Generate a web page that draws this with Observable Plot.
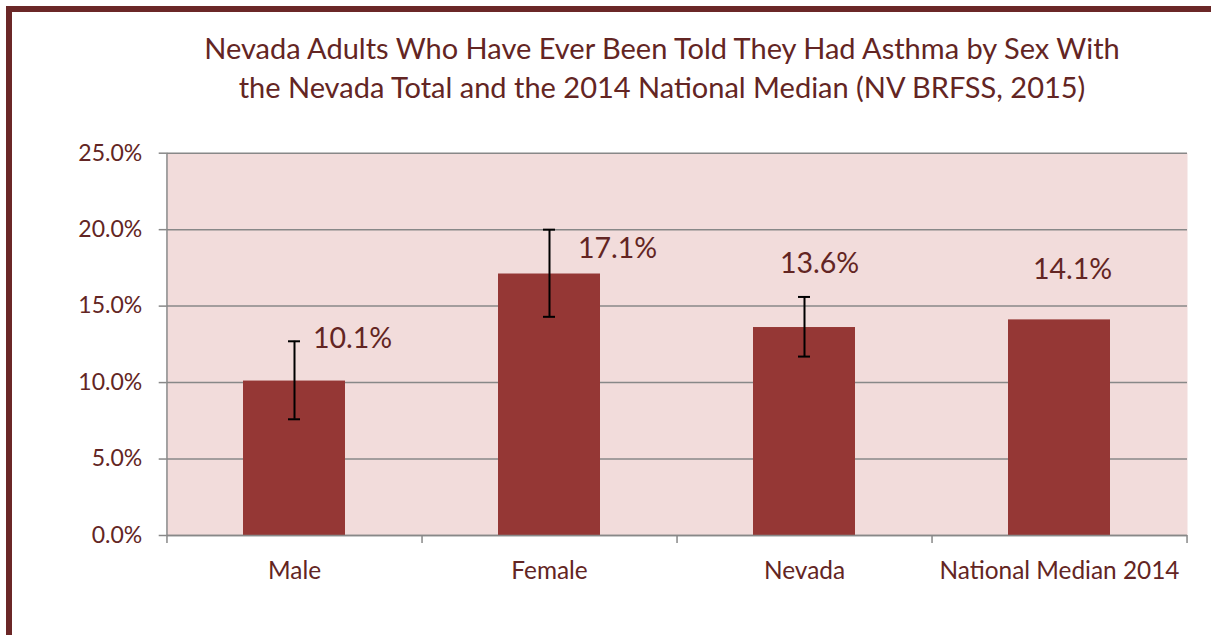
<!DOCTYPE html>
<html><head><meta charset="utf-8">
<script src="https://cdn.jsdelivr.net/npm/d3@7"></script>
<script src="https://cdn.jsdelivr.net/npm/@observablehq/plot@0.6"></script>
<style>
body{margin:0;background:#fff;}
#wrap{position:relative;width:1211px;height:635px;overflow:hidden;background:#fff;}
#border{position:absolute;left:6px;top:6px;width:1300px;height:700px;border-left:6px solid #6b2727;border-top:6px solid #6b2727;}
#title{position:absolute;left:150px;width:1024px;top:28px;text-align:center;font-family:Lato;font-size:29px;line-height:39px;color:#632523;white-space:nowrap;}
#chart{position:absolute;left:0;top:120px;}
</style></head><body>
<div id="wrap"><div id="border"></div><div id="title"></div><div id="chart"></div></div>
<script>
// ---- data ----
const titleLines = ["Nevada Adults Who Have Ever Been Told They Had Asthma by Sex With", "the Nevada Total and the 2014 National Median (NV BRFSS, 2015)"];
const categories = ["Male", "Female", "Nevada", "National Median 2014"];
const values = [10.1, 17.1, 13.6, 14.1];
const ciLow = [7.6, 14.3, 11.7, null];
const ciHigh = [12.7, 20.0, 15.6, null];
const yTicks = [0, 5, 10, 15, 20, 25];

// ---- layout ----
document.getElementById("title").innerHTML = titleLines.join("<br>");
const W = 1211, H = 515, mL = 166.7, mR = 24, mT = 32.7, mB = 100;
const step = (W - mL - mR) / categories.length;
const grey = "#888888", txt = "#632523", barFill = "#953735";
const labelOffset = {"Male": [58, -42], "Female": [68, -25], "Nevada": [15, -64], "National Median 2014": [13, -50]};
const idx = categories.map((_, i) => i);
const errIdx = idx.filter(i => ciLow[i] != null);

const chart = Plot.plot({
  width: W, height: H,
  marginLeft: mL, marginRight: mR, marginTop: mT, marginBottom: mB,
  style: {fontFamily: "Lato", background: "transparent", color: txt},
  x: {type: "band", domain: categories, paddingInner: 0.6, paddingOuter: 0.3, label: null},
  y: {domain: [0, 25], label: null},
  marks: [
    Plot.frame({fill: "#f2dcdb", stroke: null}),
    Plot.gridY(yTicks, {stroke: grey, strokeOpacity: 1, strokeWidth: 1.5}),
    Plot.axisY({ticks: yTicks, tickFormat: d => d.toFixed(1) + "%", tickSize: 8, tickPadding: 17, stroke: grey, strokeWidth: 1.5, fill: txt, fontSize: 23}),
    Plot.axisX({tickSize: 0, tickPadding: 26, fill: txt, fontSize: 24.4}),
    Plot.barY(idx, {x: i => categories[i], y: i => values[i], fill: barFill}),
    Plot.ruleY([0], {stroke: grey, strokeWidth: 1.5}),
    Plot.ruleX([categories[0]], {x: d => d, dx: -step / 2, insetBottom: -8, stroke: grey, strokeWidth: 1.5}),
    Plot.ruleX(categories, {x: d => d, dx: step / 2, y1: 0, y2: 0, insetBottom: -8, stroke: grey, strokeWidth: 1.5}),
    Plot.ruleX(errIdx, {x: i => categories[i], y1: i => ciLow[i], y2: i => ciHigh[i], stroke: "#000", strokeWidth: 2}),
    Plot.tickY(errIdx, {x: i => categories[i], y: i => ciLow[i], stroke: "#000", strokeWidth: 2, inset: 45}),
    Plot.tickY(errIdx, {x: i => categories[i], y: i => ciHigh[i], stroke: "#000", strokeWidth: 2, inset: 45}),
    ...idx.map(i => Plot.text([i], {x: j => categories[j], y: j => values[j], text: j => values[j].toFixed(1) + "%", dx: labelOffset[categories[i]][0], dy: labelOffset[categories[i]][1], fill: txt, fontSize: 28.5}))
  ]
});
document.getElementById("chart").appendChild(chart);
</script>
</body></html>
